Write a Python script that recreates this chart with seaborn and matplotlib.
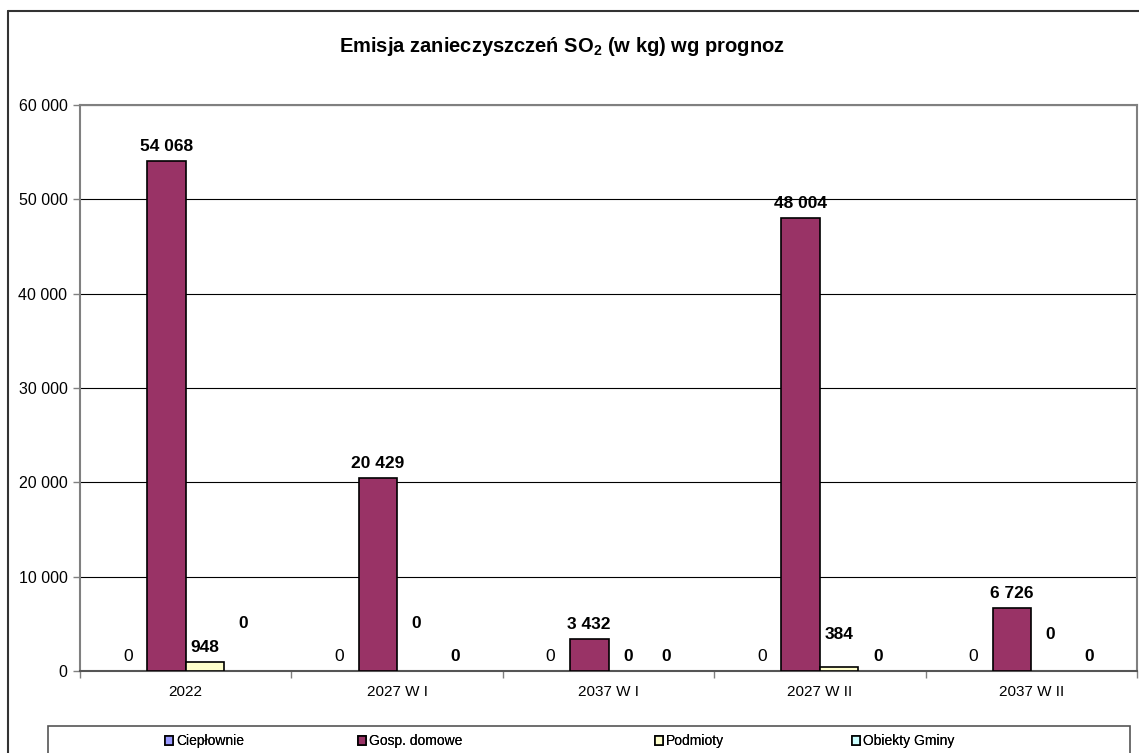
import pandas as pd
import matplotlib.pyplot as plt
import seaborn as sns
from matplotlib.lines import Line2D
from matplotlib.patches import Rectangle
from matplotlib.ticker import FuncFormatter, FixedLocator

# Dane z wykresu
scenarios = ["2022", "2027 W I", "2037 W I", "2027 W II", "2037 W II"]
series = ["Ciepłownie", "Gosp. domowe", "Podmioty", "Obiekty Gminy"]
cieplownie = [0, 0, 0, 0, 0]
gosp_domowe = [54068, 20429, 3432, 48004, 6726]
podmioty = [948, 0, 0, 384, 0]
obiekty_gminy = [0, 0, 0, 0, 0]
colors = ["#9999FF", "#993366", "#FFFFCC", "#CCFFFF"]

# extra lift (points) for labels that were moved by hand in the original
extra_lift = {
    ("Podmioty", "2027 W I"): 24,
    ("Podmioty", "2027 W II"): 13,
    ("Podmioty", "2037 W II"): 16,
    ("Obiekty Gminy", "2022"): 24,
}

rows = []
for name, vals in zip(series, [cieplownie, gosp_domowe, podmioty, obiekty_gminy]):
    for sc, v in zip(scenarios, vals):
        rows.append({"scenariusz": sc, "seria": name, "wartosc": v})
df = pd.DataFrame(rows)

sns.set_theme(style="white")
plt.rcParams['font.family'] = ['Liberation Sans', 'DejaVu Sans']
plt.rcParams['text.color'] = 'black'
plt.rcParams['xtick.color'] = 'black'
plt.rcParams['ytick.color'] = 'black'
plt.rcParams['mathtext.fontset'] = 'custom'
plt.rcParams['mathtext.rm'] = 'Liberation Sans'
plt.rcParams['mathtext.bf'] = 'Liberation Sans:bold'

fig = plt.figure(figsize=(11.39, 7.53), dpi=100)
ax = fig.add_axes([80 / 1139, 1 - 671 / 753, 1057 / 1139, 566 / 753])

sns.barplot(data=df, x="scenariusz", y="wartosc", hue="seria",
            palette=colors, saturation=1, edgecolor="black", linewidth=1.2,
            width=0.73, ax=ax, legend=True, zorder=3)

fmt = lambda v: f"{int(v):,}".replace(",", " ")

# Etykiety wartosci
for name, cont in zip(series, ax.containers):
    for sc, bar in zip(scenarios, cont):
        v = bar.get_height()
        if v == 0:
            bar.set_linewidth(0)
        lift = extra_lift.get((name, sc), 0)
        ax.annotate(fmt(v), (bar.get_x() + bar.get_width() / 2, v),
                    xytext=(0, 5 + lift), textcoords="offset points",
                    ha="center", va="bottom", fontsize=12.5, color="black",
                    fontweight="normal" if name == "Ciepłownie" else "bold")

ax.set_ylim(0, 60000)
ax.set_xlim(-0.5, len(scenarios) - 0.5)
ax.set_yticks(range(0, 60001, 10000))
ax.yaxis.set_major_formatter(FuncFormatter(lambda v, p: fmt(v)))
ax.grid(axis="y", color="black", linewidth=0.8, zorder=0)
ax.set_axisbelow(True)
ax.set_xlabel("")
ax.set_ylabel("")
for s in ax.spines.values():
    s.set_color("#808080")
    s.set_linewidth(1.5)
ax.spines["bottom"].set_color("#555555")
ax.tick_params(axis="y", which="major", left=True, length=5, width=1,
               color="#808080", labelsize=11.5, pad=4)
ax.tick_params(axis="x", which="major", bottom=False, labelsize=11, pad=4)
ax.xaxis.set_minor_locator(FixedLocator([i - 0.5 for i in range(len(scenarios) + 1)]))
ax.tick_params(axis="x", which="minor", bottom=True, length=5, width=1, color="#808080")

# Legenda - kazdy wpis osobno, jak w oryginale (nierowne odstepy)
handles, labels = ax.get_legend_handles_labels()
ax.get_legend().remove()
legend_x = [165, 358, 655, 852]
for h, lab, lx in zip(handles, labels, legend_x):
    lg = fig.legend([h], [lab], loc="center left", bbox_to_anchor=(lx / 1139, 1 - 741 / 753),
                    frameon=False, fontsize=10, handlelength=0.6, handleheight=0.6,
                    handletextpad=0.2, borderpad=0, borderaxespad=0)
    fig.add_artist(lg)

# ramki
fig.add_artist(Rectangle((48 / 1139, -0.05), 1082 / 1139, 0.05 + 27 / 753,
                         transform=fig.transFigure, fill=False,
                         edgecolor="#555555", linewidth=1.2))
fig.add_artist(Line2D([8 / 1139, 8 / 1139], [0, 1 - 11 / 753], transform=fig.transFigure,
                      color="#333333", linewidth=1.5))
fig.add_artist(Line2D([8 / 1139, 1], [1 - 11 / 753, 1 - 11 / 753], transform=fig.transFigure,
                      color="#333333", linewidth=1.5))

fig.text(562 / 1139, 1 - 46 / 753, r"Emisja zanieczyszczeń SO$_\mathbf{2}$ (w kg) wg prognoz",
         ha="center", va="center", fontsize=14.5, fontweight="bold")

fig.savefig("out.png", dpi=100)
